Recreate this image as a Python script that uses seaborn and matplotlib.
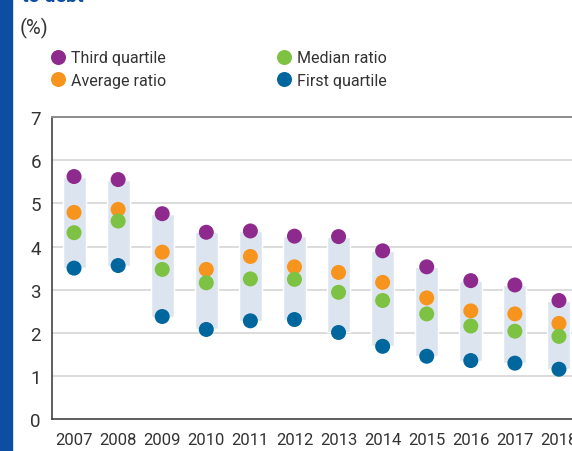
import matplotlib
matplotlib.use("Agg")
import matplotlib.pyplot as plt
from matplotlib import font_manager
from matplotlib.patches import Rectangle
import seaborn as sns
import pandas as pd

years = ["2007", "2008", "2009", "2010", "2011", "2012", "2013", "2014", "2015", "2016", "2017", "2018"]
third_quartile = [5.62, 5.55, 4.76, 4.33, 4.36, 4.24, 4.23, 3.90, 3.53, 3.21, 3.11, 2.75]
average_ratio = [4.79, 4.86, 3.87, 3.47, 3.77, 3.53, 3.40, 3.17, 2.81, 2.51, 2.44, 2.22]
median_ratio = [4.32, 4.59, 3.47, 3.16, 3.25, 3.24, 2.94, 2.75, 2.44, 2.16, 2.04, 1.92]
first_quartile = [3.50, 3.56, 2.38, 2.08, 2.28, 2.31, 2.01, 1.69, 1.46, 1.36, 1.30, 1.16]

series_names = ["Third quartile", "Average ratio", "Median ratio", "First quartile"]
colors = ["#8E2A8D", "#F7941D", "#7DC242", "#00679E"]

sns.set_style("white")
plt.rcParams['font.family'] = ['Roboto', 'DejaVu Sans']

# long-form table for seaborn
df = pd.DataFrame({
    "year": years * 4,
    "value": third_quartile + average_ratio + median_ratio + first_quartile,
    "series": [s for s in series_names for _ in years],
})

fig = plt.figure(figsize=(5.72, 4.52), dpi=100)
ax = fig.add_axes([52 / 572, 0.0701, 529 / 572, 0.669])

# interquartile band
band = [q3 - q1 for q1, q3 in zip(first_quartile, third_quartile)]
ax.bar(range(len(years)), band, bottom=first_quartile, width=0.52, color="#DCE5EF", zorder=1)

sns.stripplot(data=df, x="year", y="value", hue="series", hue_order=series_names,
              palette=colors, jitter=False, dodge=False, size=10.8, linewidth=0,
              ax=ax, zorder=3, legend=False)

ax.set_xlim(-0.5, len(years) - 0.5)
ax.set_ylim(0, 7)
ax.set_yticks(range(0, 8))
for v in range(1, 7):
    ax.axhline(v, color="#D9D9D9", lw=1.3, zorder=0)
ax.set_xlabel("")
ax.set_ylabel("")
ax.tick_params(axis="both", length=0, labelcolor="#333333")
ax.tick_params(axis="x", labelsize=12, pad=9)
ax.tick_params(axis="y", labelsize=13.5, pad=8)
ax.spines["right"].set_visible(False)
ax.spines["top"].set_color("#8C8C8C")
ax.spines["top"].set_linewidth(1.4)
for side in ["left", "bottom"]:
    ax.spines[side].set_color("#333333")
    ax.spines[side].set_linewidth(1.1)

# legend
handles = [plt.Line2D([], [], marker="o", linestyle="", markersize=10.8,
                      markerfacecolor=c, markeredgewidth=0) for c in colors]
fig.legend(handles, series_names, ncol=2, loc="upper left",
           bbox_to_anchor=(36 / 572, 1 - 37 / 452), frameon=False,
           fontsize=11.5, handletextpad=0.3, columnspacing=6.9,
           labelspacing=0.45, handlelength=1.0, labelcolor="#333333")

fig.text(20 / 572, 1 - 28 / 452, "(%)", fontsize=14.5, color="#333333", va="center")
fig.text(22 / 572, 1 - 2 / 452, "to debt", fontsize=14, fontweight="bold",
         color="#0B4EA2", va="baseline")
fig.patches.append(Rectangle((0, 0), 12 / 572, 1, transform=fig.transFigure,
                             color="#0B4EA2", zorder=5))

fig.savefig("out.png", dpi=100)
